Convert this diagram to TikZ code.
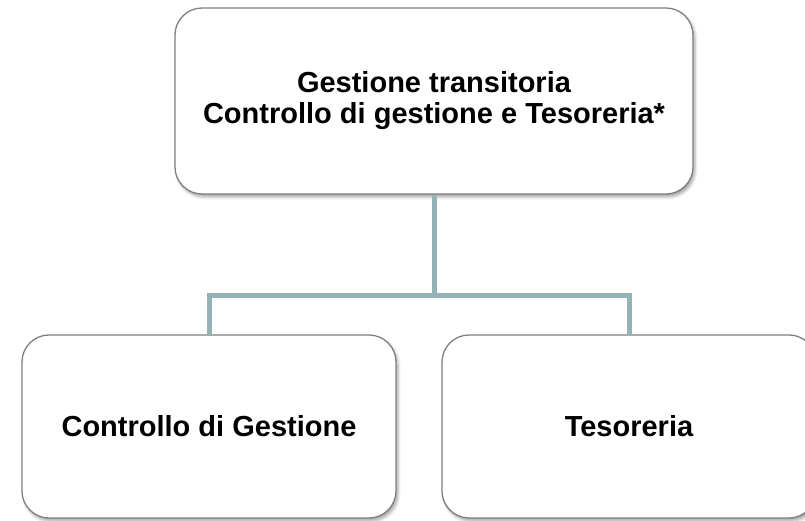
\documentclass[tikz,border=0pt]{standalone}
\usepackage{fontspec}
\setmainfont{Liberation Sans}
\usetikzlibrary{shadows.blur}
\definecolor{linkc}{HTML}{93B3B7}
\definecolor{edgec}{HTML}{7F7F7F}
\begin{document}
\begin{tikzpicture}[x=1pt,y=1pt,
  box/.style={draw=edgec, line width=1.3pt, fill=white, rounded corners=27pt,
    align=center, font=\fontsize{29}{31}\selectfont\bfseries, inner sep=0pt,
    blur shadow={shadow xshift=2pt, shadow yshift=-3pt, shadow blur radius=3pt, shadow opacity=35}},
  link/.style={draw=linkc, line width=5pt}]
\useasboundingbox (0,0) rectangle (805,521);
\clip (0,0) rectangle (805,521);
\node[box, minimum width=518pt, minimum height=186pt] (top) at (434,420) {Gestione transitoria\\Controllo di gestione e Tesoreria*};
\node[box, minimum width=374pt, minimum height=183pt] (left) at (209,94.5) {Controllo di Gestione};
\node[box, minimum width=374pt, minimum height=183pt] (right) at (629,94.5) {Tesoreria};
\coordinate (mid) at (434,225);
\draw[link] (top.south) -- (mid) -| (left.north);
\draw[link] (mid) -| (right.north);
\end{tikzpicture}
\end{document}
